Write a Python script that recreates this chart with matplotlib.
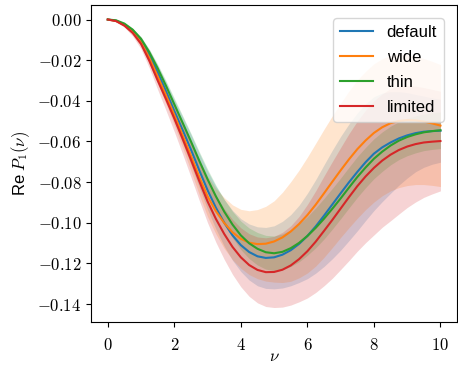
import numpy as np
import matplotlib
matplotlib.use('Agg')
import matplotlib.pyplot as plt
from matplotlib.ticker import FuncFormatter

plt.rcParams['font.family'] = ['Liberation Sans', 'DejaVu Sans']
plt.rcParams['mathtext.fontset'] = 'cm'
plt.rcParams['font.size'] = 12

# nu from 0 to 10 in steps of 0.25
nu = np.arange(41) * 0.25

labels = ['default', 'wide', 'thin', 'limited']

# mean curves
default_mean = [0, -0.0006, -0.0025, -0.0057, -0.0105, -0.0176, -0.026, -0.0353, -0.045, -0.0544,
                -0.064, -0.0742, -0.084, -0.0926, -0.100, -0.1062, -0.111, -0.1144, -0.1165, -0.1173,
                -0.1170, -0.1157, -0.1135, -0.1104, -0.1065, -0.1018, -0.0965, -0.091, -0.0855, -0.0801,
                -0.075, -0.0702, -0.066, -0.0629, -0.0605, -0.0585, -0.057, -0.0559, -0.0552, -0.0549, -0.0547]
wide_mean = [0, -0.0007, -0.0028, -0.0061, -0.0112, -0.0189, -0.028, -0.0373, -0.047, -0.0569,
             -0.067, -0.0774, -0.087, -0.0943, -0.1001, -0.1047, -0.1079, -0.1098, -0.1105, -0.1103,
             -0.1092, -0.1072, -0.1043, -0.1006, -0.0962, -0.0911, -0.0855, -0.0798, -0.0742, -0.0688,
             -0.0638, -0.0595, -0.0558, -0.053, -0.051, -0.0499, -0.0495, -0.0496, -0.0502, -0.0511, -0.0522]
thin_mean = [0, -0.0004, -0.002, -0.005, -0.0095, -0.0161, -0.024, -0.0326, -0.0417, -0.0508,
             -0.060, -0.0695, -0.0786, -0.087, -0.0945, -0.1009, -0.1062, -0.1101, -0.1128, -0.1145,
             -0.115, -0.1143, -0.1125, -0.1099, -0.1065, -0.1025, -0.098, -0.0931, -0.088, -0.0827,
             -0.0775, -0.0728, -0.0685, -0.065, -0.062, -0.0596, -0.0578, -0.0565, -0.0555, -0.0549, -0.0545]
limited_mean = [0, -0.0008, -0.003, -0.0066, -0.012, -0.0204, -0.030, -0.0392, -0.0487, -0.0587,
                -0.069, -0.0795, -0.0895, -0.0981, -0.1055, -0.1119, -0.117, -0.1208, -0.1232, -0.1243,
                -0.1242, -0.1231, -0.121, -0.1179, -0.114, -0.1093, -0.104, -0.0986, -0.093, -0.0874,
                -0.082, -0.0772, -0.073, -0.0694, -0.0665, -0.0642, -0.0625, -0.0613, -0.0605, -0.0601, -0.0598]

# half widths of the shaded bands
default_sd = [0, 0.0002, 0.0006, 0.0011, 0.0018, 0.0026, 0.0035, 0.0045, 0.0055, 0.0065,
              0.0075, 0.0085, 0.0095, 0.0105, 0.0115, 0.0123, 0.013, 0.0138, 0.0145, 0.015,
              0.0155, 0.0164, 0.0175, 0.019, 0.021, 0.023, 0.025, 0.0267, 0.028, 0.0287,
              0.029, 0.0287, 0.028, 0.0267, 0.025, 0.023, 0.021, 0.019, 0.0175, 0.0163, 0.0155]
wide_sd = [0, 0.0003, 0.0008, 0.0014, 0.002, 0.0027, 0.0035, 0.0042, 0.005, 0.0062,
           0.0075, 0.0088, 0.010, 0.0112, 0.0125, 0.0135, 0.0145, 0.0157, 0.017, 0.0184,
           0.020, 0.0222, 0.0245, 0.0265, 0.0285, 0.0302, 0.0315, 0.0324, 0.033, 0.0336,
           0.034, 0.034, 0.034, 0.0337, 0.0333, 0.0328, 0.0322, 0.0316, 0.031, 0.0305, 0.030]
thin_sd = [0, 0.0001, 0.0003, 0.0006, 0.001, 0.0015, 0.002, 0.0025, 0.003, 0.0035,
           0.004, 0.0045, 0.005, 0.0055, 0.006, 0.0065, 0.007, 0.0075, 0.008, 0.0083,
           0.0085, 0.0088, 0.009, 0.0093, 0.0095, 0.0098, 0.010, 0.010, 0.010, 0.010,
           0.010, 0.0099, 0.0098, 0.0097, 0.0095, 0.0093, 0.0092, 0.0091, 0.009, 0.009, 0.009]
limited_sd = [0, 0.0003, 0.0008, 0.0016, 0.0025, 0.0035, 0.0045, 0.0055, 0.0065, 0.0075,
              0.0085, 0.0095, 0.0105, 0.0115, 0.0125, 0.0135, 0.0145, 0.0154, 0.0162, 0.0169,
              0.0175, 0.0184, 0.0195, 0.021, 0.023, 0.025, 0.027, 0.0287, 0.030, 0.0312,
              0.032, 0.0326, 0.033, 0.0328, 0.0325, 0.0315, 0.030, 0.0285, 0.027, 0.0257, 0.0245]

means = [default_mean, wide_mean, thin_mean, limited_mean]
sds = [default_sd, wide_sd, thin_sd, limited_sd]
colors = ['C0', 'C1', 'C2', 'C3']

fig = plt.figure(figsize=(4.58, 3.65), dpi=100)
ax = fig.add_axes([0.199, 0.118, 0.799, 0.868])

for lab, m, s, c in zip(labels, means, sds, colors):
    m = np.array(m)
    s = np.array(s)
    ax.plot(nu, m, color=c, label=lab, lw=1.5)
    ax.fill_between(nu, m - s, m + s, color=c, alpha=0.2, lw=0)

ax.set_xticks([0, 2, 4, 6, 8, 10])
ax.set_yticks([0, -0.02, -0.04, -0.06, -0.08, -0.10, -0.12, -0.14])
ax.xaxis.set_major_formatter(FuncFormatter(lambda v, p: '$%g$' % v))
ax.yaxis.set_major_formatter(FuncFormatter(lambda v, p: '$%.2f$' % v))
ax.tick_params(axis='x', pad=7.5)
ax.set_xlabel(r'$\nu$', labelpad=-3)
ax.set_ylabel(r'Re $P_1(\nu)$')
ax.legend(loc='upper right', labelspacing=0.6, borderaxespad=0.8)

fig.savefig('out.png', dpi=100)
